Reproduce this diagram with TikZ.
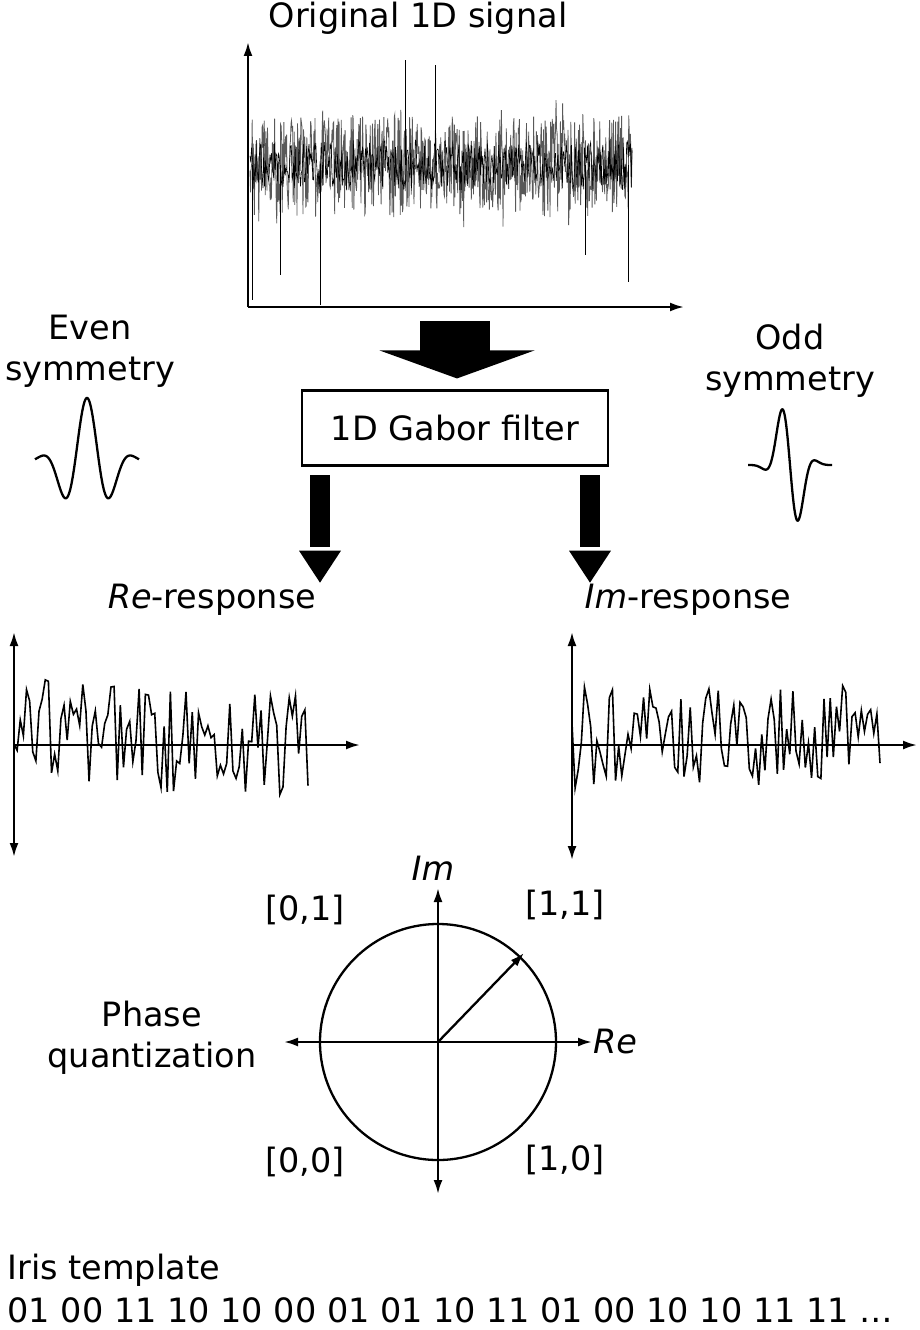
\documentclass[tikz,border=0pt]{standalone}
\usepackage{fontspec}
\setmainfont{DejaVu Sans}
\usetikzlibrary{shapes.geometric,arrows.meta}
\begin{document}
\begin{tikzpicture}[x=1pt,y=-1pt,
  txt/.style={font=\fontsize{33.5}{41}\selectfont, align=center},
  ax/.style={line width=2.3pt,-{Latex[length=14pt,width=9pt]}},
  ax2/.style={line width=2.3pt,{Latex[length=14pt,width=9pt]}-{Latex[length=14pt,width=9pt]}},
  sig/.style={line width=1.6pt}]
\useasboundingbox (0,0) rectangle (919,1330);
\pgfmathsetseed{11}
% title and original signal
\node[txt] (t1) at (418,18) {Original 1D signal};
\coordinate (o) at (248,307);
\coordinate (oy) at (248,42);
\coordinate (ox) at (684,307);
\draw[ax] (o) -- (oy);
\draw[ax] (o) -- (ox);
\draw[line width=0.8pt, black!65] plot[domain=250:632, samples=700] (\x,{165+50*rand+35*rand*rand*rand});
\draw[line width=0.6pt, black] plot[domain=250:632, samples=500] (\x,{165+25*rand});
\draw[line width=1pt] (280,165) -- (280,275) (320,165)--(320,305) (405,165)--(405,60) (435,165)--(435,65) (628,165)--(628,282) (585,165)--(585,255) (252,165)--(252,300);
% big arrow
\node[fill=black, minimum width=70pt, minimum height=30pt, inner sep=0] (stem) at (455,336) {};
\node[fill=black, isosceles triangle, shape border rotate=-90, minimum width=155pt, minimum height=28pt, inner sep=0, isosceles triangle stretches] (head) at (457,364) {};
% box
\node[txt, draw, line width=2.3pt, minimum width=306pt, minimum height=75pt] (box) at (455,428) {1D Gabor filter};
% two arrows
\foreach \n/\xx in {a/320,b/590}{
  \node[fill=black, minimum width=20pt, minimum height=72pt, inner sep=0] (\n s) at (\xx,511) {};
  \node[fill=black, isosceles triangle, shape border rotate=-90, minimum width=42pt, minimum height=32pt, inner sep=0, isosceles triangle stretches] (\n h) at (\xx,562) {};
}
% symmetry labels
\node[txt] (even) at (90,351) {Even\\symmetry};
\node[txt] (odd) at (790,361) {Odd\\symmetry};
\draw[line width=2.3pt] plot[domain=-52:52, samples=200] ({87+\x}, {462-64*exp(-(\x/30)^2)*cos(\x*7.5)});
\draw[line width=2.3pt] plot[domain=-42:42, samples=200] ({790+\x}, {465+75*exp(-(\x/16)^2)*sin(\x*9)});
% response labels
\node[txt] (re) at (212,600) {\textit{Re}-response};
\node[txt] (im) at (688,600) {\textit{Im}-response};
% Re plot
\coordinate (ra) at (14,857); \coordinate (rb) at (14,632);
\coordinate (rc) at (14,745); \coordinate (rd) at (360,745);
\draw[ax2] (ra) -- (rb);
\draw[ax] (rc) -- (rd);
\draw[sig] plot[domain=14:308, samples=95] (\x,{745-20*exp(-((\x-14)/120)^2)+52*rand});
% Im plot
\coordinate (ia) at (572,860); \coordinate (ib) at (572,632);
\coordinate (ic) at (572,745); \coordinate (id) at (917,745);
\draw[ax2] (ia) -- (ib);
\draw[ax] (ic) -- (id);
\draw[sig] plot[domain=572:880, samples=100] (\x,{745-8+52*rand});
% phase circle
\coordinate (c) at (438,1042);
\draw[line width=2.3pt] (c) circle (118);
\coordinate (cu) at (438,888); \coordinate (cd) at (438,1194);
\coordinate (cl) at (284,1042); \coordinate (cr) at (592,1042);
\coordinate (cp) at (524,953);
\draw[ax2] (cd) -- (cu);
\draw[ax2] (cl) -- (cr);
\draw[ax] (c) -- (cp);
\node[txt] (lim) at (433,868) {\textit{Im}};
\node[txt] (lre) at (615,1042) {\textit{Re}};
\node[txt] (q01) at (305,910) {[0,1]};
\node[txt] (q11) at (565,905) {[1,1]};
\node[txt] (q00) at (305,1162) {[0,0]};
\node[txt] (q10) at (565,1160) {[1,0]};
\node[txt] (pq) at (152,1038) {Phase\\quantization};
% template
\node[txt, anchor=west] (it) at (4,1270) {Iris template};
\node[txt, anchor=west] (bits) at (4,1310) {01 00 11 10 10 00 01 01 10 11 01 00 10 10 11 11 \dots};
\end{tikzpicture}
\end{document}
